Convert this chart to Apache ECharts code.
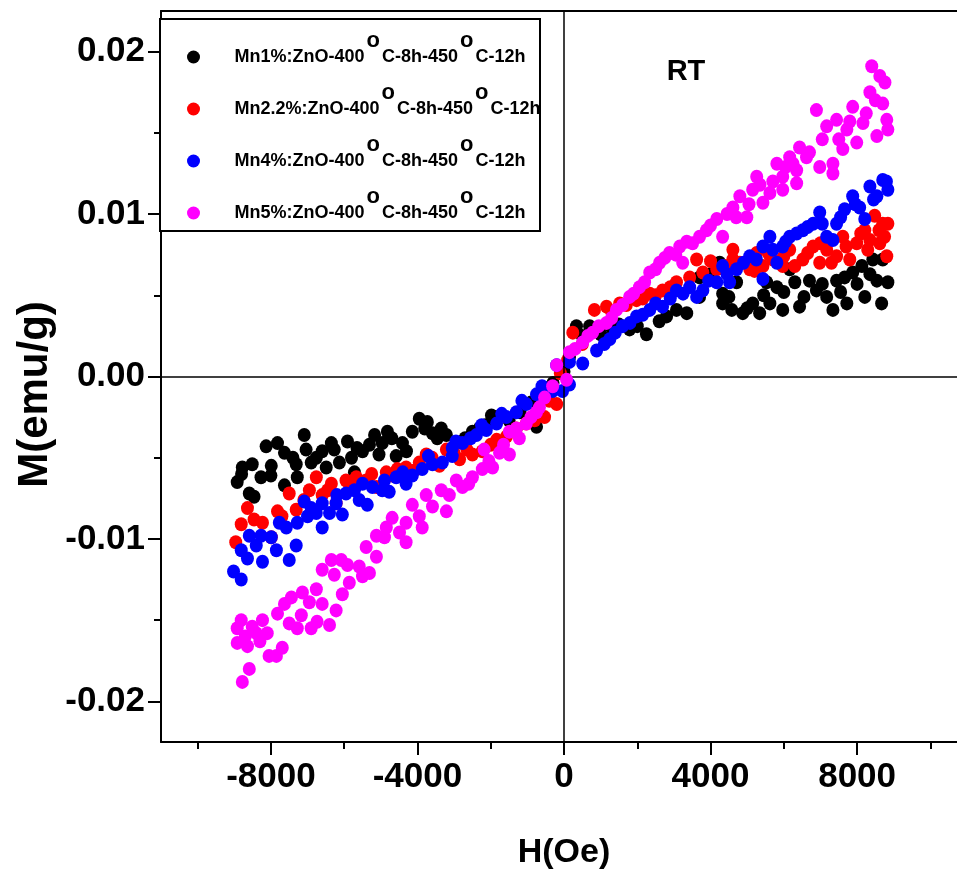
<!DOCTYPE html>
<html><head><meta charset="utf-8">
<script src="https://cdn.jsdelivr.net/npm/echarts@6/dist/echarts.min.js"></script>
<style>html,body{margin:0;padding:0;background:#fff}#c{width:957px;height:873px}</style>
</head><body><div id="c"></div><script>
const FONT = "'Liberation Sans', Arial, sans-serif";

const seriesNames = [
  'Mn1%:ZnO-400°C-8h-450°C-12h',
  'Mn2.2%:ZnO-400°C-8h-450°C-12h',
  'Mn4%:ZnO-400°C-8h-450°C-12h',
  'Mn5%:ZnO-400°C-8h-450°C-12h'
];
const seriesColors = ['#000000', '#ff0000', '#0000ff', '#ff00ff'];

const xMajorTicks = [-8000, -4000, 0, 4000, 8000];
const xMinorTicks = [-10000, -6000, -2000, 2000, 6000, 10000];
const yMajorTicks = [-0.02, -0.01, 0, 0.01, 0.02];
const yMinorTicks = [-0.015, -0.005, 0.005, 0.015];

// H (Oe), M (emu/g)
const mn1 = [
  [-8920,-0.0065],[-8780,-0.0056],[-8590,-0.0072],[-8460,-0.0074],[-8510,-0.0054],[-8270,-0.0062],[-8130,-0.0043],[-7990,-0.0055],
  [-7820,-0.0041],[-7630,-0.0047],[-7630,-0.0067],[-7310,-0.0054],[-7280,-0.0062],[-7090,-0.0036],[-7040,-0.0045],[-6760,-0.0050],
  [-6600,-0.0046],[-6490,-0.0056],[-6270,-0.0045],[-6130,-0.0053],[-5910,-0.0040],[-5800,-0.0050],[-5720,-0.0059],[-5500,-0.0046],
  [-5310,-0.0042],[-5170,-0.0036],[-4960,-0.0041],[-4820,-0.0034],[-4580,-0.0049],[-4410,-0.0041],[-4140,-0.0034],[-3950,-0.0026],
  [-3730,-0.0028],[-3590,-0.0035],[-3460,-0.0038],[-3210,-0.0036],[-2940,-0.0041],[-2500,-0.0034],[-2310,-0.0032],[-1980,-0.0024],
  [-1820,-0.0025],[-1500,-0.0027],[-1200,-0.0022],[-900,-0.0016],[-750,-0.0031],[-530,-0.0007],[-300,-0.0004],[0,0.0003],
  [-8800,-0.0060],[-8000,-0.0061],[-7400,-0.0050],[-6900,-0.0053],[-6350,-0.0041],[-5650,-0.0044],[-5050,-0.0048],[-4700,-0.0038],
  [-4300,-0.0046],[-3800,-0.0032],[-3350,-0.0032],[-2700,-0.0038],[-2150,-0.0030],
  [150,0.0012],[340,0.0031],[500,0.0025],[700,0.0031],[1000,0.0026],[1300,0.0030],[1500,0.0032],[1790,0.0029],[2000,0.0031],
  [2250,0.0026],[2600,0.0034],[2800,0.0037],
  [3070,0.0041],[3350,0.0039],[3700,0.0049],[3700,0.0061],[4000,0.0063],[4250,0.0070],[4330,0.0045],[4330,0.0051],[4500,0.0049],
  [4580,0.0041],[4710,0.0058],[4880,0.0039],[5000,0.0042],[5150,0.0045],[5340,0.0039],[5450,0.0050],[5530,0.0058],[5620,0.0045],
  [5810,0.0055],[5970,0.0041],[6000,0.0052],[6160,0.0066],[6300,0.0058],[6430,0.0043],[6550,0.0049],[6700,0.0059],[6890,0.0053],
  [7050,0.0057],[7170,0.0049],[7340,0.0041],[7440,0.0059],[7550,0.0052],[7660,0.0061],[7720,0.0045],[7880,0.0064],[8000,0.0057],
  [8130,0.0068],[8210,0.0049],[8350,0.0063],[8430,0.0072],[8540,0.0059],[8670,0.0045],[8700,0.0072],[8840,0.0058]
];
const mn22 = [
  [-8960,-0.0102],[-8810,-0.0091],[-8640,-0.0081],[-8460,-0.0088],[-8230,-0.0090],[-7990,-0.0099],[-7820,-0.0083],[-7500,-0.0072],
  [-7310,-0.0082],[-6950,-0.0070],[-6760,-0.0062],[-6600,-0.0073],[-6350,-0.0066],[-6220,-0.0078],[-5950,-0.0064],[-5670,-0.0062],
  [-5400,-0.0064],[-5120,-0.0068],[-4850,-0.0059],[-4690,-0.0061],[-4310,-0.0056],[-3950,-0.0053],[-3760,-0.0048],[-3400,-0.0055],
  [-3210,-0.0045],[-2850,-0.0051],[-2500,-0.0048],[-2230,-0.0046],[-1840,-0.0039],[-1570,-0.0037],[-1030,-0.0029],[-530,-0.0025],
  [-200,-0.0017],[-100,0.0002],[100,0.0010],
  [-7700,-0.0086],[-7100,-0.0076],[-6450,-0.0070],[-5800,-0.0068],[-5250,-0.0060],[-4550,-0.0057],[-4100,-0.0058],[-3600,-0.0050],
  [-3000,-0.0047],[-2650,-0.0045],[-2000,-0.0042],[-1300,-0.0032],[-800,-0.0027],[-400,-0.0015],
  [240,0.0027],[500,0.0020],[830,0.0041],[1160,0.0043],[1300,0.0040],[1520,0.0045],[1700,0.0044],[1980,0.0047],[2150,0.0048],
  [2340,0.0051],[2500,0.0050],[2690,0.0053],[2900,0.0055],
  [3070,0.0058],[3430,0.0061],[3620,0.0072],[3790,0.0064],[4000,0.0071],[4170,0.0066],[4400,0.0068],[4610,0.0072],[4610,0.0078],
  [4800,0.0070],[5070,0.0066],[5200,0.0065],[5260,0.0076],[5430,0.0068],[5600,0.0075],[5700,0.0072],[5890,0.0070],[5970,0.0068],
  [6000,0.0074],[6160,0.0078],[6300,0.0068],[6520,0.0072],[6650,0.0076],[6800,0.0080],[6980,0.0070],[7000,0.0082],[7170,0.0078],
  [7300,0.0070],[7440,0.0074],[7610,0.0086],[7700,0.0080],[7800,0.0072],[7990,0.0082],[8100,0.0088],[8210,0.0090],[8290,0.0078],
  [8350,0.0084],[8480,0.0099],[8600,0.0090],[8620,0.0082],[8700,0.0094],[8750,0.0086],[8810,0.0074],[8840,0.0094]
];
const mn4 = [
  [-9020,-0.0120],[-8810,-0.0125],[-8810,-0.0107],[-8640,-0.0112],[-8590,-0.0098],[-8400,-0.0104],[-8270,-0.0098],[-8230,-0.0114],
  [-7990,-0.0099],[-7850,-0.0107],[-7770,-0.0090],[-7580,-0.0093],[-7500,-0.0113],[-7310,-0.0104],[-7280,-0.0090],[-7090,-0.0077],
  [-7000,-0.0086],[-6760,-0.0084],[-6600,-0.0093],[-6600,-0.0078],[-6400,-0.0084],[-6220,-0.0078],[-6050,-0.0085],[-5950,-0.0072],
  [-5720,-0.0070],[-5590,-0.0076],[-5370,-0.0079],[-5230,-0.0068],[-4960,-0.0070],[-4770,-0.0071],[-4580,-0.0062],[-4310,-0.0066],
  [-4140,-0.0061],[-3870,-0.0057],[-3590,-0.0054],[-3320,-0.0053],[-3050,-0.0049],[-3050,-0.0044],[-2770,-0.0041],[-2390,-0.0036],
  [-2120,-0.0033],[-1840,-0.0029],[-1570,-0.0025],[-1300,-0.0022],[-1030,-0.0017],[-750,-0.0011],[-310,-0.0009],[-40,-0.0009],
  [150,-0.0005],
  [-6900,-0.0081],[-6200,-0.0073],[-5500,-0.0066],[-4900,-0.0064],[-4400,-0.0059],[-3700,-0.0049],[-2950,-0.0040],[-2550,-0.0038],
  [-2250,-0.0030],[-1700,-0.0023],[-1150,-0.0015],[-600,-0.0006],
  [-200,0.0007],[150,0.0009],[510,0.0008],[890,0.0016],[1100,0.0020],[1250,0.0023],[1400,0.0027],[1600,0.0031],[1800,0.0033],
  [1980,0.0037],[2150,0.0038],[2340,0.0041],[2500,0.0045],[2690,0.0043],[2900,0.0048],[3070,0.0053],[3250,0.0051],[3430,0.0055],
  [3620,0.0049],[3790,0.0053],[3950,0.0059],[4170,0.0058],[4330,0.0068],[4450,0.0063],[4520,0.0058],[4710,0.0066],[4900,0.0070],
  [5070,0.0074],[5250,0.0072],[5430,0.0080],[5430,0.0060],[5620,0.0086],[5700,0.0078],[5810,0.0070],[5970,0.0080],[6050,0.0083],
  [6160,0.0086],[6350,0.0088],[6520,0.0090],[6650,0.0092],[6800,0.0094],[6980,0.0101],[7050,0.0094],[7170,0.0086],[7340,0.0084],
  [7440,0.0094],[7550,0.0098],[7660,0.0103],[7880,0.0111],[7950,0.0106],[8070,0.0104],[8210,0.0097],[8350,0.0117],[8450,0.0109],
  [8540,0.0111],[8700,0.0121],[8800,0.0120],[8840,0.0115]
];
const mn5 = [
  [-8780,-0.0188],[-8590,-0.0180],[-8920,-0.0164],[-8640,-0.0166],[-8920,-0.0155],[-8810,-0.0150],[-8510,-0.0154],[-8400,-0.0158],
  [-8230,-0.0150],[-8100,-0.0158],[-8050,-0.0172],[-7850,-0.0172],[-7690,-0.0167],[-7820,-0.0146],[-7630,-0.0140],[-7440,-0.0136],
  [-7500,-0.0152],[-7280,-0.0155],[-7170,-0.0147],[-7140,-0.0133],[-6950,-0.0139],[-6900,-0.0155],[-6760,-0.0131],[-6740,-0.0151],
  [-6600,-0.0140],[-6400,-0.0153],[-6220,-0.0144],[-6050,-0.0134],[-6600,-0.0119],[-6350,-0.0113],[-6270,-0.0122],[-6080,-0.0113],
  [-5910,-0.0116],[-5860,-0.0127],[-5590,-0.0117],[-5500,-0.0123],[-5310,-0.0121],[-5400,-0.0105],[-5120,-0.0111],[-5120,-0.0098],
  [-4900,-0.0099],[-4850,-0.0093],[-4690,-0.0087],[-4490,-0.0096],[-4310,-0.0102],[-4310,-0.0090],[-4140,-0.0079],[-3950,-0.0086],
  [-3870,-0.0093],[-3760,-0.0073],[-3590,-0.0080],[-3350,-0.0070],[-3210,-0.0083],[-3130,-0.0073],[-2940,-0.0064],[-2770,-0.0068],
  [-2500,-0.0062],[-2230,-0.0057],[-1950,-0.0056],[-2180,-0.0045],[-1760,-0.0047],[-1490,-0.0048],[-1490,-0.0034],[-1220,-0.0038],
  [-1030,-0.0029],[-750,-0.0022],[-670,-0.0019],[-530,-0.0013],[-310,-0.0006],[70,-0.0002],
  [-2600,-0.0066],[-2050,-0.0052],[-1650,-0.0042],[-1300,-0.0032],[-900,-0.0025],[-8700,-0.0160],[-8300,-0.0163],
  [-200,0.0007],[150,0.0015],[300,0.0017],[510,0.0021],[650,0.0025],[780,0.0027],[950,0.0031],[1160,0.0033],[1300,0.0036],
  [1430,0.0041],[1600,0.0044],[1790,0.0049],[1900,0.0051],[2060,0.0055],[2200,0.0058],
  [2340,0.0064],[2500,0.0066],[2610,0.0070],[2750,0.0073],[2880,0.0076],[3050,0.0075],[3160,0.0080],[3240,0.0070],[3350,0.0083],
  [3510,0.0082],[3700,0.0086],[3890,0.0090],[4000,0.0093],[4170,0.0097],[4330,0.0086],[4450,0.0100],[4610,0.0104],[4700,0.0098],
  [4800,0.0111],[4990,0.0098],[5050,0.0106],[5150,0.0115],[5260,0.0123],[5350,0.0118],[5430,0.0107],[5620,0.0113],[5700,0.0120],
  [5810,0.0131],[5970,0.0123],[5970,0.0115],[6050,0.0129],[6160,0.0135],[6250,0.0131],[6350,0.0119],[6350,0.0127],[6430,0.0141],
  [6620,0.0135],[6700,0.0138],[6890,0.0164],[6980,0.0129],[7050,0.0146],[7170,0.0154],[7340,0.0131],[7340,0.0125],[7440,0.0158],
  [7500,0.0146],[7610,0.0140],[7720,0.0152],[7800,0.0157],[7880,0.0166],[7990,0.0144],[8160,0.0156],[8250,0.0162],[8350,0.0175],
  [8400,0.0191],[8500,0.0170],[8540,0.0148],[8620,0.0185],[8700,0.0168],[8760,0.0181],[8810,0.0158],[8840,0.0152]
];
const seriesData = [mn1, mn22, mn4, mn5];

const chart = echarts.init(document.getElementById('c'), null, {renderer: 'canvas'});

const axisLineStyle = {color: '#000', width: 2};
const xBase = {type: 'value', min: -11000, max: 11000, splitLine: {show: false}};
const yBase = {type: 'value', min: -0.0225, max: 0.0225, splitLine: {show: false}};

const legendFormatter = function (name) {
  const parts = name.split('°');
  return parts.map(p => '{t|' + p + '}').join('{s|o}');
};

const option = {
  backgroundColor: '#fff',
  animation: false,
  grid: {left: 161, top: 11, right: -10, bottom: 131, containLabel: false, outerBoundsMode: 'none'},
  xAxis: [
    Object.assign({}, xBase, {
      position: 'bottom',
      name: 'H(Oe)', nameLocation: 'middle', nameGap: 94, nameMoveOverlap: false,
      nameTextStyle: {fontFamily: FONT, fontWeight: 'bold', fontSize: 34, color: '#000'},
      axisLine: {onZero: false, lineStyle: axisLineStyle},
      axisTick: {customValues: xMajorTicks, length: 13, inside: false, lineStyle: {color: '#000', width: 2}},
      axisLabel: {customValues: xMajorTicks, margin: 18, fontFamily: FONT, fontWeight: 'bold', fontSize: 35, color: '#000',
        formatter: v => String(v)}
    }),
    Object.assign({}, xBase, {
      position: 'bottom',
      axisLine: {show: false, onZero: false},
      axisTick: {customValues: xMinorTicks, length: 7, lineStyle: {color: '#000', width: 2}},
      axisLabel: {show: false}
    }),
    Object.assign({}, xBase, {
      position: 'top',
      axisLine: {show: true, onZero: false, lineStyle: axisLineStyle},
      axisTick: {show: false},
      axisLabel: {show: false}
    })
  ],
  yAxis: [
    Object.assign({}, yBase, {
      position: 'left',
      name: 'M(emu/g)', nameLocation: 'middle', nameGap: 105, nameMoveOverlap: false,
      nameTextStyle: {fontFamily: FONT, fontWeight: 'bold', fontSize: 42, color: '#000', padding: [0, 36, 0, 0]},
      axisLine: {onZero: false, lineStyle: axisLineStyle},
      axisTick: {customValues: yMajorTicks, length: 13, lineStyle: {color: '#000', width: 2}},
      axisLabel: {customValues: yMajorTicks, margin: 16, fontFamily: FONT, fontWeight: 'bold', fontSize: 35, color: '#000',
        formatter: v => v.toFixed(2)}
    }),
    Object.assign({}, yBase, {
      position: 'left',
      axisLine: {show: false, onZero: false},
      axisTick: {customValues: yMinorTicks, length: 7, lineStyle: {color: '#000', width: 2}},
      axisLabel: {show: false}
    })
  ],
  legend: {
    orient: 'vertical', left: 187, top: 30, padding: 0, z: 8,
    itemWidth: 72, itemHeight: 13, itemGap: 16, icon: 'circle', selectedMode: false,
    data: seriesNames,
    formatter: legendFormatter,
    textStyle: {
      rich: {
        t: {fontFamily: FONT, fontWeight: 'bold', fontSize: 18, color: '#000', lineHeight: 36},
        s: {fontFamily: FONT, fontWeight: 'bold', fontSize: 22, color: '#000', height: 4, lineHeight: 4, verticalAlign: 'top', padding: [0, 2, 0, 2]}
      }
    }
  },
  graphic: [
    {type: 'rect', z: 5, shape: {x: 160, y: 19, width: 380, height: 212}, style: {fill: '#fff', stroke: '#000', lineWidth: 2}},
    {type: 'text', z: 10, x: 686, y: 72, style: {text: 'RT', fontFamily: FONT, fontWeight: 'bold', fontSize: 29, fill: '#000', align: 'center', verticalAlign: 'middle'}}
  ],
  series: seriesNames.map((n, i) => ({
    name: n, type: 'scatter', data: seriesData[i],
    xAxisIndex: 0, yAxisIndex: 0,
    symbol: 'circle', symbolSize: [13, 14],
    itemStyle: {color: seriesColors[i], opacity: 1},
    z: 2 + i,
    markLine: i === 0 ? {
      silent: true, symbol: 'none', label: {show: false},
      lineStyle: {color: '#000', width: 1.5, type: 'solid'},
      data: [{xAxis: 0}, {yAxis: 0}]
    } : undefined
  }))
};
chart.setOption(option);
</script></body></html>
